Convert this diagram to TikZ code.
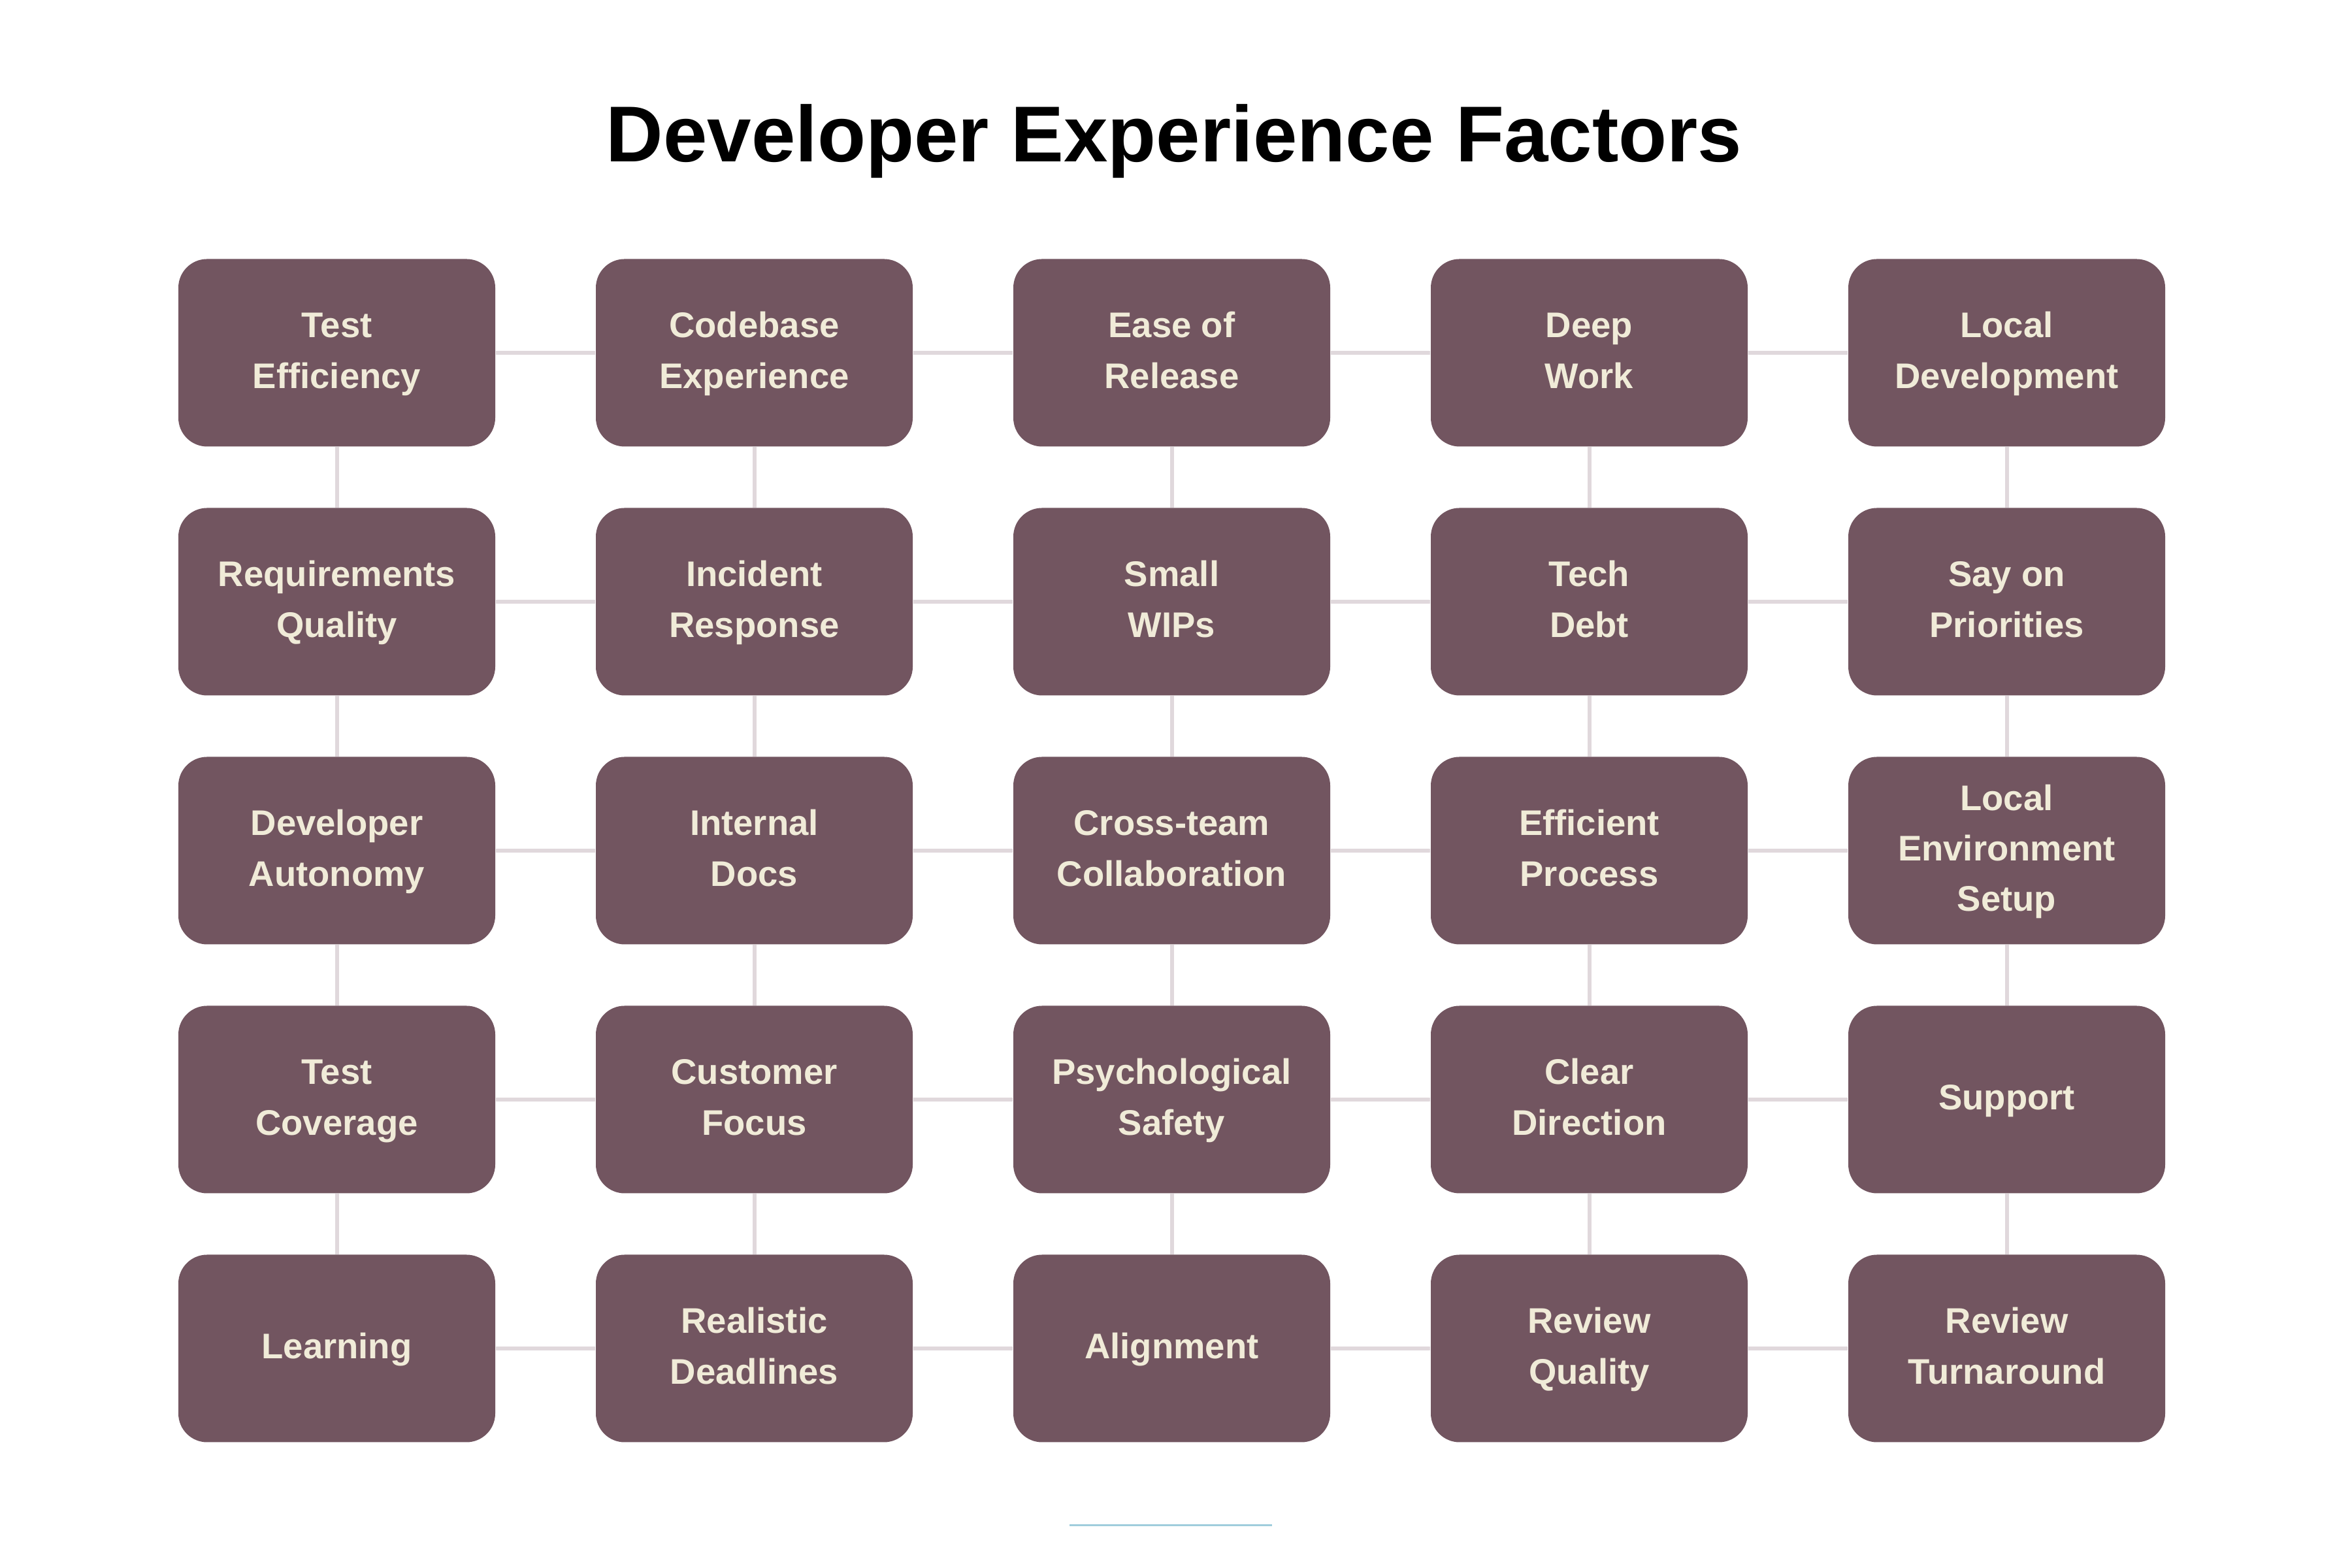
\documentclass[tikz,border=0pt]{standalone}
\usepackage{fontspec}
\setmainfont{Liberation Sans}

\definecolor{boxfill}{RGB}{114,85,96}
\definecolor{boxtext}{RGB}{240,235,216}
\definecolor{gridline}{RGB}{224,216,220}
\definecolor{barline}{RGB}{160,205,220}

\tikzset{
  factor/.style={fill=boxfill, rounded corners=0.44cm, minimum width=4.85cm,
    minimum height=2.87cm, align=center, text=boxtext,
    font=\bfseries\fontsize{15.5}{22}\selectfont},
  link/.style={draw=gridline, line width=0.06cm}
}
\newcommand{\brk}{\strut\\\strut}

\begin{document}
\begin{tikzpicture}

\useasboundingbox (0,0) rectangle (36,24);

\node[anchor=base, font=\bfseries\fontsize{34.5}{40}\selectfont] (title) at (17.97,21.52) {Developer Experience Factors};

% row 1
\node[factor] (f11) at (5.155,18.60) {\strut Test\brk Efficiency\strut};
\node[factor] (f12) at (11.545,18.60) {\strut Codebase\brk Experience\strut};
\node[factor] (f13) at (17.935,18.60) {\strut Ease of\brk Release\strut};
\node[factor] (f14) at (24.325,18.60) {\strut Deep\brk Work\strut};
\node[factor] (f15) at (30.715,18.60) {\strut Local\brk Development\strut};

% row 2
\node[factor] (f21) at (5.155,14.79) {\strut Requirements\brk Quality\strut};
\node[factor] (f22) at (11.545,14.79) {\strut Incident\brk Response\strut};
\node[factor] (f23) at (17.935,14.79) {\strut Small\brk WIPs\strut};
\node[factor] (f24) at (24.325,14.79) {\strut Tech\brk Debt\strut};
\node[factor] (f25) at (30.715,14.79) {\strut Say on\brk Priorities\strut};

% row 3
\node[factor] (f31) at (5.155,10.98) {\strut Developer\brk Autonomy\strut};
\node[factor] (f32) at (11.545,10.98) {\strut Internal\brk Docs\strut};
\node[factor] (f33) at (17.935,10.98) {\strut Cross-team\brk Collaboration\strut};
\node[factor] (f34) at (24.325,10.98) {\strut Efficient\brk Process\strut};
\node[factor] (f35) at (30.715,10.98) {\strut Local\brk Environment\brk Setup\strut};

% row 4
\node[factor] (f41) at (5.155,7.17) {\strut Test\brk Coverage\strut};
\node[factor] (f42) at (11.545,7.17) {\strut Customer\brk Focus\strut};
\node[factor] (f43) at (17.935,7.17) {\strut Psychological\brk Safety\strut};
\node[factor] (f44) at (24.325,7.17) {\strut Clear\brk Direction\strut};
\node[factor] (f45) at (30.715,7.17) {\strut Support\strut};

% row 5
\node[factor] (f51) at (5.155,3.36) {\strut Learning\strut};
\node[factor] (f52) at (11.545,3.36) {\strut Realistic\brk Deadlines\strut};
\node[factor] (f53) at (17.935,3.36) {\strut Alignment\strut};
\node[factor] (f54) at (24.325,3.36) {\strut Review\brk Quality\strut};
\node[factor] (f55) at (30.715,3.36) {\strut Review\brk Turnaround\strut};

% grid links
\foreach \r in {1,...,5}
  \foreach \c/\d in {1/2,2/3,3/4,4/5}
    \draw[link] (f\r\c) -- (f\r\d);
\foreach \c in {1,...,5}
  \foreach \r/\s in {1/2,2/3,3/4,4/5}
    \draw[link] (f\r\c) -- (f\s\c);

\draw[barline, line width=0.03cm] (16.37,0.65) -- (19.47,0.65);

\end{tikzpicture}
\end{document}
